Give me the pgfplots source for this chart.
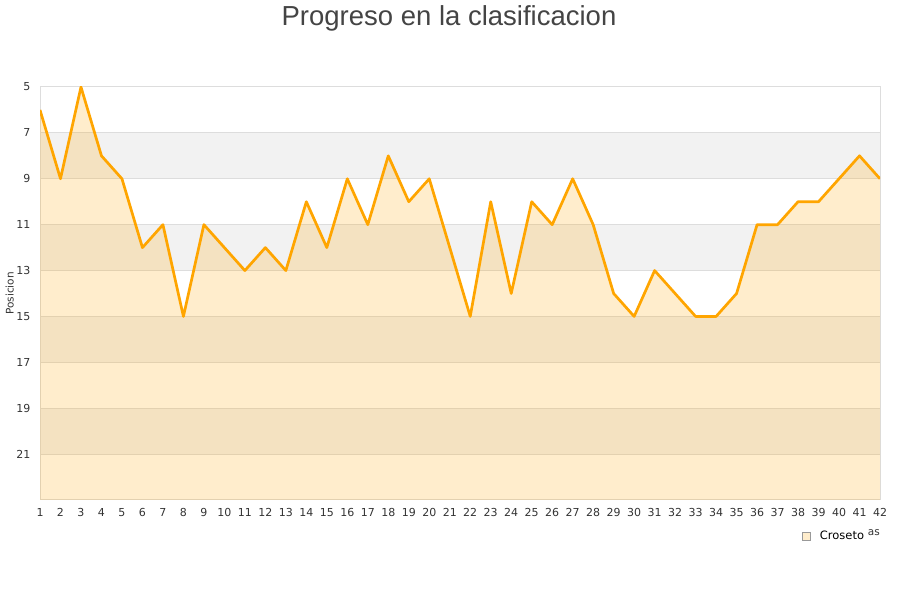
\documentclass[border=0pt]{standalone}
\usepackage{fontspec}
\setmainfont{DejaVu Sans}
\newfontfamily\titlefont{Liberation Sans}
\usepackage{pgfplots}
\usepackage{pgfplotstable}
\pgfplotsset{compat=1.18}

\definecolor{lineorange}{HTML}{FFA500}
\definecolor{band}{HTML}{F2F2F2}
\definecolor{gridc}{HTML}{DDDDDD}
\definecolor{tickc}{HTML}{333333}
\definecolor{titlec}{HTML}{444444}

% posicion por jornada
\pgfplotstableread{
j pos
1 6
2 9
3 5
4 8
5 9
6 12
7 11
8 15
9 11
10 12
11 13
12 12
13 13
14 10
15 12
16 9
17 11
18 8
19 10
20 9
21 12
22 15
23 10
24 14
25 10
26 11
27 9
28 11
29 14
30 15
31 13
32 14
33 15
34 15
35 14
36 11
37 11
38 10
39 10
40 9
41 8
42 9
}\clasif

% same series closed down to the bottom of the axis, for the area
\pgfplotstableread{
j pos
1 23
1 6
2 9
3 5
4 8
5 9
6 12
7 11
8 15
9 11
10 12
11 13
12 12
13 13
14 10
15 12
16 9
17 11
18 8
19 10
20 9
21 12
22 15
23 10
24 14
25 10
26 11
27 9
28 11
29 14
30 15
31 13
32 14
33 15
34 15
35 14
36 11
37 11
38 10
39 10
40 9
41 8
42 9
42 23
}\clasifarea

\begin{document}
\begin{tikzpicture}
\node[font=\titlefont\fontsize{27.5}{32}\selectfont, text=titlec, anchor=base] at (449pt,574pt) {Progreso en la clasificacion};
\begin{axis}[
    set layers,
    at={(40pt,100pt)}, anchor=south west,
    scale only axis, width=840pt, height=413pt,
    xmin=1, xmax=42, ymin=5, ymax=23,
    y dir=reverse,
    xtick={1,...,42}, ytick={5,7,...,21},
    major tick length=0pt,
    /pgf/number format/assume math mode=true,
    tick label style={font=\fontsize{11}{13}\selectfont, text=tickc},
    yticklabel style={xshift=-6pt},
    xticklabel style={yshift=-5pt},
    ymajorgrids=true,
    major grid style={gridc, line width=1pt},
    axis line style={gridc, line width=1pt},
    ylabel={Posicion},
    ylabel style={font=\fontsize{10.5}{12}\selectfont, text=tickc, at={(axis description cs:-0.036,0.5)}, anchor=center},
    xlabel={Jornadas},
    xlabel style={font=\fontsize{10.5}{12}\selectfont, text=tickc, at={(axis description cs:1,-0.08)}, anchor=east, inner sep=0pt},
    legend style={at={(0.906,-0.087)}, anchor=west, draw=none, fill=white,
        font=\fontsize{11.5}{13}\selectfont, inner xsep=1pt, inner ysep=3pt,
        nodes={inner xsep=3pt}},
    legend image code/.code={\draw[fill=lineorange!20, fill opacity=1, draw=gray!80, line width=0.7pt] (0pt,-4pt) rectangle (8pt,4pt);},
]
\begin{pgfonlayer}{axis background}
\fill[band] (axis cs:1,7) rectangle (axis cs:42,9);
\fill[band] (axis cs:1,11) rectangle (axis cs:42,13);
\fill[band] (axis cs:1,15) rectangle (axis cs:42,17);
\fill[band] (axis cs:1,19) rectangle (axis cs:42,21);
\end{pgfonlayer}
\addplot[fill=lineorange, fill opacity=0.2, draw=none] table[x=j, y=pos] {\clasifarea};
\addlegendentry{\hspace{6pt}Croseto\hspace{3pt}}
\addplot[lineorange, line width=2.7pt, line join=round, forget plot] table[x=j, y=pos] {\clasif};
\end{axis}
\path (0pt,0pt) rectangle (900pt,600pt);
\end{tikzpicture}
\end{document}
